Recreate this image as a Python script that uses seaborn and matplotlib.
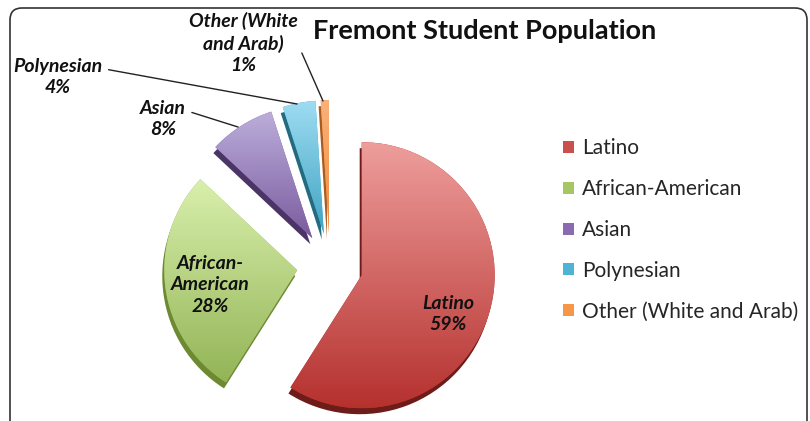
import numpy as np
import matplotlib
matplotlib.use("Agg")
import matplotlib.pyplot as plt
import seaborn as sns
from matplotlib.patches import FancyBboxPatch, Patch
from matplotlib.colors import LinearSegmentedColormap

# data
groups = ['Latino', 'African-American', 'Asian', 'Polynesian', 'Other (White and Arab)']
shares = [59, 28, 8, 4, 1]
light = ['#ee9e9c', '#d9f0ad', '#bcaedb', '#9edcf2', '#f9b27a']
dark = ['#b5312e', '#93b456', '#7a5b9e', '#3fa3c2', '#f08b3c']
side = ['#6e1c1a', '#6d8a33', '#4a3566', '#236b80', '#a85c22']
legend_cols = ['#c9504d', '#a5c662', '#8a6bb0', '#4fb4d4', '#f79646']

W, H = 810, 421
sns.set_style("white")
plt.rcParams['font.family'] = ['Lato', 'DejaVu Sans']

fig = plt.figure(figsize=(W / 100, H / 100), dpi=100)
ax = fig.add_axes([0, 0, 1, 1])

def py(y):
    return H - y

# outer frame
frame = FancyBboxPatch((10, -20), 797, py(8) + 20, boxstyle="round,pad=0,rounding_size=12",
                       fc='white', ec='#333333', lw=1.2, zorder=0)
ax.add_patch(frame)

cx, cy, r = 330, py(266), 133
expl = [33] * 5  # pie explode is in data units here (1 unit = 1 px)

# depth (extruded side)
ax.pie(shares, explode=expl, startangle=90, counterclock=False, radius=r,
       center=(cx - 2, cy - 6), colors=side, frame=True,
       wedgeprops=dict(lw=0, zorder=1))
wedges, _ = ax.pie(shares, explode=expl, startangle=90, counterclock=False, radius=r,
                   center=(cx, cy), colors=dark, frame=True,
                   wedgeprops=dict(lw=0, zorder=2))

# gradient fill on each wedge
grad = np.linspace(0, 1, 256).reshape(-1, 1)
for w, c1, c2 in zip(wedges, light, dark):
    bb = w.get_path().get_extents(w.get_transform() - ax.transData)
    cmap = LinearSegmentedColormap.from_list('g', [c1, c2])
    im = ax.imshow(grad, cmap=cmap, extent=(bb.x0, bb.x1, bb.y0, bb.y1),
                   origin='upper', aspect='auto', zorder=3, interpolation='bicubic')
    im.set_clip_path(w)

ax.set_xlim(0, W)
ax.set_ylim(0, H)
ax.set_aspect('equal')
ax.axis('off')

lab = dict(fontsize=14, fontweight='bold', fontstyle='italic', ha='center',
           va='center', color='#111111', linespacing=1.3, zorder=6)
ax.text(448, py(314), 'Latino\n59%', **lab)
ax.text(210, py(285), 'African-\nAmerican\n28%', **lab)

line = dict(arrowstyle='-', color='#222222', lw=1.0, shrinkA=2, shrinkB=0)
ax.annotate('Asian\n8%', xy=(238, py(127)), xytext=(163, py(119)),
            arrowprops=dict(line, relpos=(1.0, 0.72)), **lab)
ax.annotate('Polynesian\n4%', xy=(297, py(104)), xytext=(58, py(77)),
            arrowprops=dict(line, relpos=(1.0, 0.72)), **lab)
ax.annotate('Other (White\nand Arab)\n1%', xy=(323, py(101)), xytext=(243, py(43)),
            arrowprops=dict(line, relpos=(1.0, 0.5)), **lab)

ax.text(485, py(31), 'Fremont Student Population', fontsize=19.5, fontweight='bold',
        ha='center', va='center', color='#111111', zorder=6)

handles = [Patch(fc=c, ec='none') for c in legend_cols]
leg = ax.legend(handles, groups, loc='upper left', bbox_to_anchor=(555 / W, 1 - 130 / H),
                bbox_transform=fig.transFigure, frameon=False, fontsize=15,
                handlelength=0.5, handleheight=0.5, handletextpad=0.4,
                labelspacing=1.0, borderaxespad=0)

fig.savefig('out.png', dpi=100)
